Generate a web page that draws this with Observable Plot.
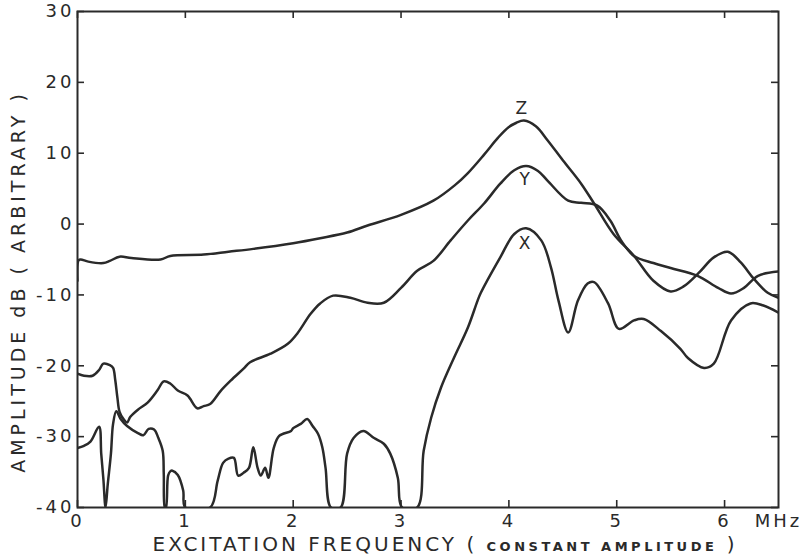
<!DOCTYPE html>
<html><head><meta charset="utf-8">
<script src="https://cdn.jsdelivr.net/npm/d3@7"></script>
<script src="https://cdn.jsdelivr.net/npm/@observablehq/plot@0.6"></script>
<style>
html,body{margin:0;padding:0;background:#fff;}
#chart svg text{letter-spacing:3px;}
</style></head><body><div id="chart"></div>
<script>
// Frequency (MHz) and amplitude (dB)
const zFreq = [0, 0.01, 0.03, 0.1, 0.24, 0.3, 0.39, 0.5, 0.77, 0.86, 1.17, 1.4, 1.63, 2.0, 2.25, 2.5, 2.69, 3.0, 3.3, 3.5, 3.62, 3.77, 3.9, 4.0, 4.07, 4.14, 4.25, 4.36, 4.5, 4.67, 4.79, 4.97, 5.16, 5.34, 5.5, 5.62, 5.76, 5.9, 6.03, 6.15, 6.27, 6.4, 6.5];
const zAmp  = [-8, -5.1, -5.0, -5.3, -5.5, -5.2, -4.6, -4.8, -5.0, -4.5, -4.3, -3.9, -3.5, -2.7, -2.0, -1.2, -0.2, 1.3, 3.3, 5.5, 7.2, 9.8, 12.2, 13.7, 14.3, 14.6, 13.8, 11.8, 9.0, 5.7, 2.9, -1.4, -4.5, -8.0, -9.5, -8.8, -6.9, -4.7, -3.9, -5.4, -7.7, -9.7, -10.4];

const yFreq = [0, 0.06, 0.14, 0.2, 0.24, 0.3, 0.33, 0.35, 0.37, 0.39, 0.43, 0.46, 0.49, 0.56, 0.65, 0.74, 0.8, 0.86, 0.93, 1.02, 1.11, 1.17, 1.23, 1.33, 1.42, 1.54, 1.6, 1.79, 1.95, 2.04, 2.16, 2.25, 2.37, 2.53, 2.69, 2.84, 3.0, 3.15, 3.3, 3.46, 3.62, 3.77, 3.92, 4.05, 4.16, 4.27, 4.36, 4.55, 4.67, 4.82, 4.94, 5.04, 5.16, 5.34, 5.5, 5.75, 5.94, 6.06, 6.18, 6.31, 6.5];
const yAmp  = [-21.1, -21.4, -21.4, -20.6, -19.7, -19.9, -20.3, -22, -24.5, -26.5, -27.6, -28.0, -27.2, -26.2, -25.2, -23.5, -22.2, -22.5, -23.5, -24.2, -26.0, -25.7, -25.4, -23.5, -22.1, -20.4, -19.5, -18.3, -16.9, -15.4, -12.7, -11.2, -10.1, -10.4, -11.1, -11.1, -9.0, -6.6, -5.2, -2.3, 0.5, 2.9, 5.7, 7.6, 8.2, 7.5, 6.1, 3.3, 3.0, 2.6, 0.5, -2.3, -4.5, -5.5, -6.2, -7.3, -9.0, -9.8, -9.0, -7.3, -6.7];

const xFreq = [0, 0.06, 0.12, 0.2, 0.22, 0.24, 0.26, 0.28, 0.31, 0.33, 0.36, 0.4, 0.46, 0.56, 0.61, 0.66, 0.71, 0.75, 0.79, 0.8, 0.81, 0.82, 0.84, 0.86, 0.88, 0.93, 0.98, 1.0, 1.23, 1.3, 1.35, 1.4, 1.45, 1.49, 1.54, 1.59, 1.63, 1.67, 1.7, 1.74, 1.77, 1.82, 1.87, 1.98, 2.0, 2.07, 2.13, 2.18, 2.23, 2.27, 2.3, 2.35, 2.44, 2.5, 2.56, 2.65, 2.75, 2.84, 2.9, 2.97, 3.01, 3.15, 3.21, 3.28, 3.37, 3.49, 3.62, 3.71, 3.74, 3.92, 4.05, 4.16, 4.3, 4.39, 4.46, 4.55, 4.64, 4.73, 4.79, 4.92, 5.02, 5.16, 5.25, 5.41, 5.59, 5.66, 5.81, 5.9, 6.06, 6.24, 6.36, 6.5];
const xAmp  = [-31.6, -31.3, -30.7, -28.6, -32.4, -36, -40, -36.8, -32.4, -28.2, -26.4, -27.5, -28.5, -29.5, -29.8, -28.9, -29.0, -30.2, -32, -35.3, -40, -40, -35.5, -34.9, -34.8, -35.4, -37.6, -40, -40, -36.2, -33.7, -33.1, -33.0, -35.5, -35.1, -34.4, -31.5, -34.4, -35.5, -34.4, -35.8, -31.6, -29.9, -29.2, -28.8, -28.2, -27.5, -28.5, -29.6, -31.5, -34.4, -40, -40, -32.4, -30.2, -29.2, -30.2, -31.0, -32.4, -35.8, -40, -40, -32, -27.3, -23.1, -18.9, -14.6, -10.8, -9.7, -4.7, -1.4, -0.6, -2.3, -6.1, -10.8, -15.3, -10.8, -8.4, -8.2, -11.2, -14.8, -13.6, -13.4, -15.1, -17.6, -18.9, -20.3, -19.7, -13.6, -11.2, -11.5, -12.5];

const curveNames = ["Z", "Y", "X"];
const labelFreq = [4.13, 4.16, 4.16];
const labelAmp  = [16.3, 6.3, -2.8];

const xTicks = [0, 1, 2, 3, 4, 5, 6];
const yTicks = [-40, -30, -20, -10, 0, 10, 20, 30];
const unitLabel = "MHz";
const xTitle = "EXCITATION FREQUENCY ( CONSTANT AMPLITUDE )";
const yTitle = "AMPLITUDE dB ( ARBITRARY )";

const table = (name, F, A) => F.map((f, i) => ({curve: name, f, a: A[i]}));
const data = [...table("Z", zFreq, zAmp), ...table("Y", yFreq, yAmp), ...table("X", xFreq, xAmp)];
const labels = curveNames.map((n, i) => ({n, f: labelFreq[i], a: labelAmp[i]}));

const ink = "#2a2a2a";
const chart = Plot.plot({
  width: 810, height: 560,
  marginLeft: 77, marginRight: 32, marginTop: 11, marginBottom: 53,
  x: {domain: [0, 6.5], ticks: xTicks, tickSize: 0, tickPadding: 7, label: null, tickFormat: d => String(d)},
  y: {domain: [-40, 30], ticks: yTicks, tickSize: 0, tickPadding: 3, label: null, tickFormat: d => String(d)},
  style: {fontFamily: "'DejaVu Sans', sans-serif", fontSize: "18px", color: ink, background: "#fff"},
  marks: [
    Plot.line(data, {x: "f", y: "a", z: "curve", stroke: ink, strokeWidth: 2.5, curve: "catmull-rom", clip: true}),
    Plot.ruleX(xTicks, {insetTop: 489, stroke: ink, strokeWidth: 1.6}),
    Plot.ruleX(xTicks, {insetBottom: 489, stroke: ink, strokeWidth: 1.6}),
    Plot.ruleY(yTicks, {insetRight: 694, stroke: ink, strokeWidth: 1.6}),
    Plot.ruleY(yTicks, {insetLeft: 694, stroke: ink, strokeWidth: 1.6}),
    Plot.frame({stroke: ink, strokeWidth: 2}),
    Plot.text(labels, {x: "f", y: "a", text: "n", fontSize: 17, fill: ink}),
    Plot.text([unitLabel], {x: 6.5, y: -40, dy: 14, fontSize: 18, fill: ink}),
    Plot.text([yTitle], {frameAnchor: "left", textAnchor: "middle", dx: -59, dy: 22, rotate: -90, fontSize: 19, fill: ink}),
    Plot.text([xTitle], {frameAnchor: "bottom-left", dx: 75, dy: 43, textAnchor: "start", fontSize: 20, fill: ink})
  ]
});
document.getElementById("chart").appendChild(chart);

// Letter spacing of the y title, and large/small lettering in the x title
const ns = "http://www.w3.org/2000/svg";
const texts = [...chart.querySelectorAll("text")];
const yt = texts.find(e => e.textContent === yTitle);
if (yt) yt.style.letterSpacing = "4px";
const t = texts.find(e => e.textContent === xTitle);
if (t) {
  t.textContent = "";
  const parts = [["EXCITATION FREQUENCY ( ", 20, "normal", "3px"], ["CONSTANT AMPLITUDE", 13, "bold", "3.5px"], [" )", 20, "normal", "3px"]];
  for (const [s, size, w, ls] of parts) {
    const ts = document.createElementNS(ns, "tspan");
    ts.textContent = s;
    ts.setAttribute("font-size", size);
    ts.setAttribute("font-weight", w);
    ts.style.letterSpacing = ls;
    t.appendChild(ts);
  }
}
</script></body></html>
